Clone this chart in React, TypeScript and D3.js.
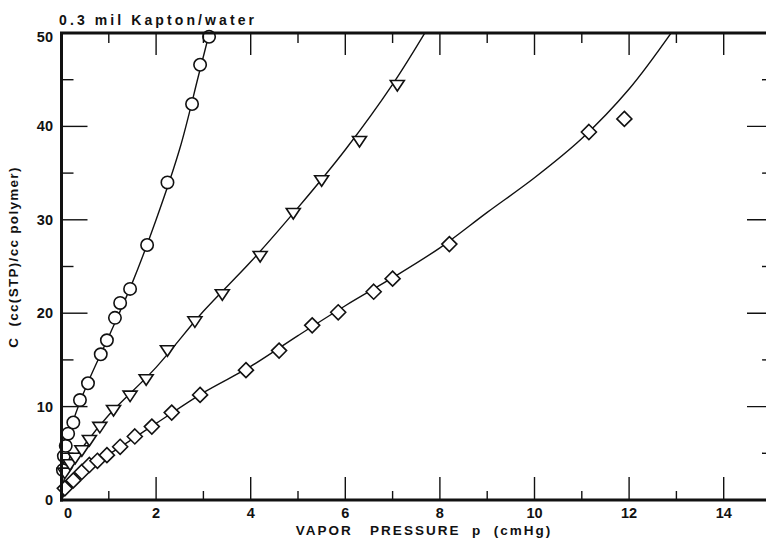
import React from "react";
import * as d3 from "d3";

// Sorption isotherm data: concentration C vs vapor pressure p
const circleP = [0.03, 0.05, 0.09, 0.14, 0.25, 0.39, 0.56, 0.83, 0.96, 1.13, 1.24, 1.45, 1.81, 2.24, 2.76, 2.93, 3.12];
const circleC = [3.2, 4.7, 5.8, 7.1, 8.3, 10.7, 12.5, 15.6, 17.1, 19.5, 21.1, 22.6, 27.3, 34.0, 42.4, 46.6, 49.6];

const triP = [0.07, 0.18, 0.29, 0.43, 0.59, 0.81, 1.1, 1.45, 1.79, 2.24, 2.82, 3.4, 4.2, 4.9, 5.5, 6.3, 7.1];
const triC = [3.0, 3.9, 4.6, 5.4, 6.5, 7.9, 9.7, 11.25, 13.0, 16.1, 19.2, 22.1, 26.2, 30.8, 34.3, 38.5, 44.5];

const diaP = [0.07, 0.25, 0.43, 0.59, 0.76, 0.96, 1.24, 1.55, 1.91, 2.33, 2.93, 3.9, 4.6, 5.3, 5.85, 6.6, 7.0, 8.2, 11.15, 11.9];
const diaC = [1.25, 2.1, 3.0, 3.75, 4.2, 4.8, 5.7, 6.8, 7.86, 9.36, 11.25, 13.9, 16.0, 18.7, 20.1, 22.3, 23.7, 27.4, 39.4, 40.8];

// Smoothed fit curves drawn through each set
const circleFitP = [0, 0.05, 0.25, 0.56, 1.0, 1.5, 2.0, 2.5, 2.9, 3.2];
const circleFitC = [0, 4.5, 8.5, 12.6, 17.5, 23.3, 30, 37.6, 45.5, 51.5];
const triFitP = [0, 0.1, 0.5, 1.0, 2.0, 3.0, 4.0, 5.0, 6.0, 7.0, 7.8];
const triFitC = [0, 3.0, 6.0, 9.1, 14.2, 20.2, 25.5, 31.3, 37.5, 44.5, 51];
const diaFitP = [0, 0.25, 0.6, 1, 2, 3, 4, 5, 6, 7, 8, 9, 10, 11, 12, 13];
const diaFitC = [0, 2.2, 3.8, 4.9, 8.2, 11.5, 14.3, 17.6, 20.8, 23.8, 27, 30.8, 34.5, 38.7, 44, 50.8];

const xMajor = [0, 2, 4, 6, 8, 10, 12, 14];
const xMinor = [1, 3, 5, 7, 9, 11, 13, 15];
const yMajor = [0, 10, 20, 30, 40, 50];
const yMinor = [5, 15, 25, 35, 45];

const W = 766;
const H = 540;
const left = 61.5;
const top = 33;
const bottom = 500;
const right = 780;

const x = d3.scaleLinear().domain([0, 15.2]).range([left, left + 47.3 * 15.2]);
const y = d3.scaleLinear().domain([0, 50]).range([bottom, top]);

const zip = (a: number[], b: number[]) => a.map((v, i) => [v, b[i]] as [number, number]);

const line = d3
  .line<[number, number]>()
  .x((d) => x(d[0]))
  .y((d) => y(d[1]))
  .curve(d3.curveCatmullRom.alpha(0.5));

const font = "'Liberation Sans', Arial, Helvetica, sans-serif";

export default function App() {
  const tri = (cx: number, cy: number) => {
    const s = 7;
    return `M${cx - s},${cy - s * 0.55} L${cx + s},${cy - s * 0.55} L${cx},${cy + s * 0.95} Z`;
  };
  const dia = (cx: number, cy: number) => {
    const s = 7.5;
    return `M${cx},${cy - s} L${cx + s},${cy} L${cx},${cy + s} L${cx - s},${cy} Z`;
  };
  return (
    <svg
      width={W}
      height={H}
      style={{ position: "absolute", left: 0, top: 0, background: "#fff" }}
      fontFamily={font}
    >
      <defs>
        <clipPath id="plot">
          <rect x={left} y={top} width={right - left} height={bottom - top} />
        </clipPath>
      </defs>
      <rect width={W} height={H} fill="#fff" />

      {/* fit curves */}
      <g clipPath="url(#plot)" fill="none" stroke="#111" strokeWidth={1.4}>
        <path d={line(zip(circleFitP, circleFitC)) || ""} />
        <path d={line(zip(triFitP, triFitC)) || ""} />
        <path d={line(zip(diaFitP, diaFitC)) || ""} />
      </g>

      {/* markers */}
      <g fill="#fff" stroke="#111" strokeWidth={1.6}>
        {zip(circleP, circleC).map((d, i) => (
          <circle key={"c" + i} cx={x(d[0])} cy={y(d[1])} r={6.2} />
        ))}
        {zip(triP, triC).map((d, i) => (
          <path key={"t" + i} d={tri(x(d[0]), y(d[1]))} />
        ))}
        {zip(diaP, diaC).map((d, i) => (
          <path key={"d" + i} d={dia(x(d[0]), y(d[1]))} />
        ))}
      </g>

      {/* frame */}
      <g stroke="#111" fill="none">
        <line x1={left} y1={top - 1} x2={left} y2={bottom + 1.5} strokeWidth={3} />
        <line x1={left - 1.5} y1={bottom} x2={W} y2={bottom} strokeWidth={3} />
        <line x1={left - 1.5} y1={top} x2={W} y2={top} strokeWidth={3} />
        <line x1={right} y1={top} x2={right} y2={bottom} strokeWidth={3} />
      </g>

      {/* ticks */}
      <g stroke="#111" strokeWidth={1.4}>
        {xMajor.map((v) => (
          <g key={"xm" + v}>
            <line x1={x(v)} x2={x(v)} y1={bottom} y2={bottom - 23} />
            <line x1={x(v)} x2={x(v)} y1={top} y2={top + 22} />
          </g>
        ))}
        {xMinor.map((v) => (
          <g key={"xn" + v}>
            <line x1={x(v)} x2={x(v)} y1={bottom} y2={bottom - 9} />
            <line x1={x(v)} x2={x(v)} y1={top} y2={top + 10} />
          </g>
        ))}
        {yMajor.map((v) => (
          <g key={"ym" + v}>
            <line x1={left} x2={left + 26} y1={y(v)} y2={y(v)} />
            <line x1={right} x2={right - 33} y1={y(v)} y2={y(v)} />
          </g>
        ))}
        {yMinor.map((v) => (
          <g key={"yn" + v}>
            <line x1={left} x2={left + 12} y1={y(v)} y2={y(v)} />
            <line x1={right} x2={right - 18} y1={y(v)} y2={y(v)} />
          </g>
        ))}
      </g>

      {/* tick labels */}
      <g fontSize={14.5} fontWeight="bold" fill="#111">
        {xMajor.map((v) => (
          <text key={"xl" + v} x={x(v) + (v === 0 ? 6.5 : 0)} y={518} textAnchor="middle">
            {v}
          </text>
        ))}
        {yMajor.map((v) => (
          <text key={"yl" + v} x={53} y={y(v) + 5 + (v === 50 ? 4 : 0)} textAnchor="end">
            {v}
          </text>
        ))}
      </g>

      {/* titles */}
      <text x={59} y={25} fontSize={14} fontWeight="bold" letterSpacing={3.1} fill="#111">
        0.3 mil Kapton/water
      </text>
      <text
        x={424}
        y={535}
        fontSize={13.5}
        fontWeight="bold"
        textAnchor="middle"
        letterSpacing={2}
        fill="#111"
        style={{ whiteSpace: "pre" }}
      >
        {"VAPOR   PRESSURE  p  (cmHg)"}
      </text>
      <text
        transform={`translate(18,257) rotate(-90)`}
        fontSize={13.5}
        fontWeight="bold"
        textAnchor="middle"
        letterSpacing={1.3}
        fill="#111"
        style={{ whiteSpace: "pre" }}
      >
        {"C  (cc(STP)/cc polymer)"}
      </text>
    </svg>
  );
}
